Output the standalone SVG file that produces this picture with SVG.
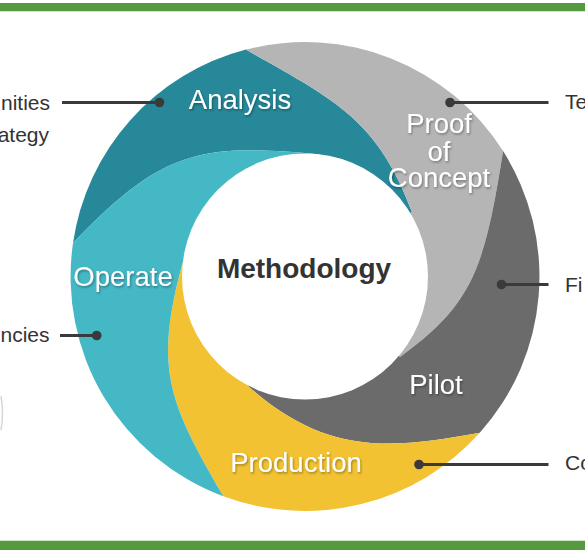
<svg xmlns="http://www.w3.org/2000/svg" width="585" height="550" viewBox="0 0 585 550">
  <defs>
    <filter id="sh" x="-10%" y="-20%" width="120%" height="150%">
      <feDropShadow dx="1" dy="1.5" stdDeviation="0.8" flood-color="#000" flood-opacity="0.35"/>
    </filter>
  </defs>
  <style>
    .seg-label { font-family: "Liberation Sans", Arial, sans-serif; font-size: 27.5px; fill: #ffffff; text-anchor: middle; filter: url(#sh); }
    .side { font-family: "Liberation Sans", Arial, sans-serif; font-size: 21px; fill: #333333; }
    .conn { stroke: #3a3a3a; stroke-width: 3; fill: none; }
    .dot { fill: #3a3a3a; }
    .bar { fill: #559a3f; }
  </style>

  <rect x="0" y="0" width="585" height="550" fill="#ffffff"/>
  <g id="frame">
    <rect class="bar" x="0" y="3" width="585" height="8"/>
    <rect x="0" y="11" width="585" height="1" fill="#cfe3c8"/>
    <rect x="0" y="540" width="585" height="1" fill="#cfe3c8"/>
    <rect class="bar" x="0" y="541" width="585" height="9"/>
    <path d="M1,396 Q4,413 1,430" stroke="#d6d6d6" stroke-width="1.5" fill="none"/>
  </g>

  <g id="analysis">
    <path fill="#268899" d="M73,243 A234.5,234.5 0 0 1 245.9,49.6 C333,99 377,118 412,212 L305,276.5 L320,154.4 C200.6,143 162.7,149.4 73,243 Z"/>
  </g>
  <g id="proof-of-concept">
    <path fill="#b5b5b5" d="M245.9,49.6 A234.5,234.5 0 0 1 503.1,151.1 C484.3,269.6 472.9,303.9 400,357 L305,276.5 L412,212 C377,118 333,99 245.9,49.6 Z"/>
  </g>
  <g id="pilot">
    <path fill="#6a6b6a" d="M503.1,151.1 A234.5,234.5 0 0 1 479.8,432.8 C382,451 323,452 248,386 L305,276.5 L400,357 C472.9,303.9 484.3,269.6 503.1,151.1 Z"/>
  </g>
  <g id="production">
    <path fill="#f2c232" d="M479.8,432.8 A234.5,234.5 0 0 1 223.3,496.3 C168,401.3 153.9,368.6 182.5,263 L305,276.5 L248,386 C323,452 382,451 479.8,432.8 Z"/>
  </g>
  <g id="operate">
    <path fill="#45b8c6" d="M223.3,496.3 A234.5,234.5 0 0 1 73,243 C162.7,149.4 200.6,143 320,154.4 L305,276.5 L182.5,263 C153.9,368.6 168,401.3 223.3,496.3 Z"/>
  </g>

  <g id="methodology">
    <circle cx="305" cy="276.5" r="123" fill="#ffffff"/>
    <text x="304" y="278" font-family="'Liberation Sans', Arial, sans-serif" font-size="28" font-weight="bold" fill="#333333" text-anchor="middle">Methodology</text>
  </g>

  <g id="labels">
    <text class="seg-label" x="240" y="109">Analysis</text>
    <text class="seg-label" x="439" y="133">Proof</text>
    <text class="seg-label" x="439" y="161">of</text>
    <text class="seg-label" x="439" y="187">Concept</text>
    <text class="seg-label" x="123" y="286">Operate</text>
    <text class="seg-label" x="436" y="394">Pilot</text>
    <text class="seg-label" x="296" y="472">Production</text>
  </g>

  <g id="connectors">
    <line class="conn" x1="62" y1="102.5" x2="159" y2="102.5"/>
    <circle class="dot" cx="159.5" cy="102.5" r="4.8"/>
    <line class="conn" x1="60" y1="335.5" x2="96" y2="335.5"/>
    <circle class="dot" cx="96.7" cy="335.5" r="4.8"/>
    <line class="conn" x1="450" y1="102.5" x2="548.5" y2="102.5"/>
    <circle class="dot" cx="450" cy="102.5" r="4.8"/>
    <line class="conn" x1="501" y1="284.5" x2="548.5" y2="284.5"/>
    <circle class="dot" cx="501.5" cy="284.5" r="4.8"/>
    <line class="conn" x1="419" y1="464.5" x2="548.5" y2="464.5"/>
    <circle class="dot" cx="419" cy="464.5" r="4.8"/>
  </g>

  <g id="side-opportunities">
    <text class="side" x="50" y="109.5" text-anchor="end">nities</text>
    <text class="side" x="49" y="141.5" text-anchor="end">ategy</text>
  </g>
  <g id="side-efficiencies">
    <text class="side" x="49.5" y="341.5" text-anchor="end">ncies</text>
  </g>
  <g id="side-te">
    <text class="side" x="565" y="108.5">Te</text>
  </g>
  <g id="side-fi">
    <text class="side" x="565" y="292">Fi</text>
  </g>
  <g id="side-co">
    <text class="side" x="565" y="470">Co</text>
  </g>
</svg>
